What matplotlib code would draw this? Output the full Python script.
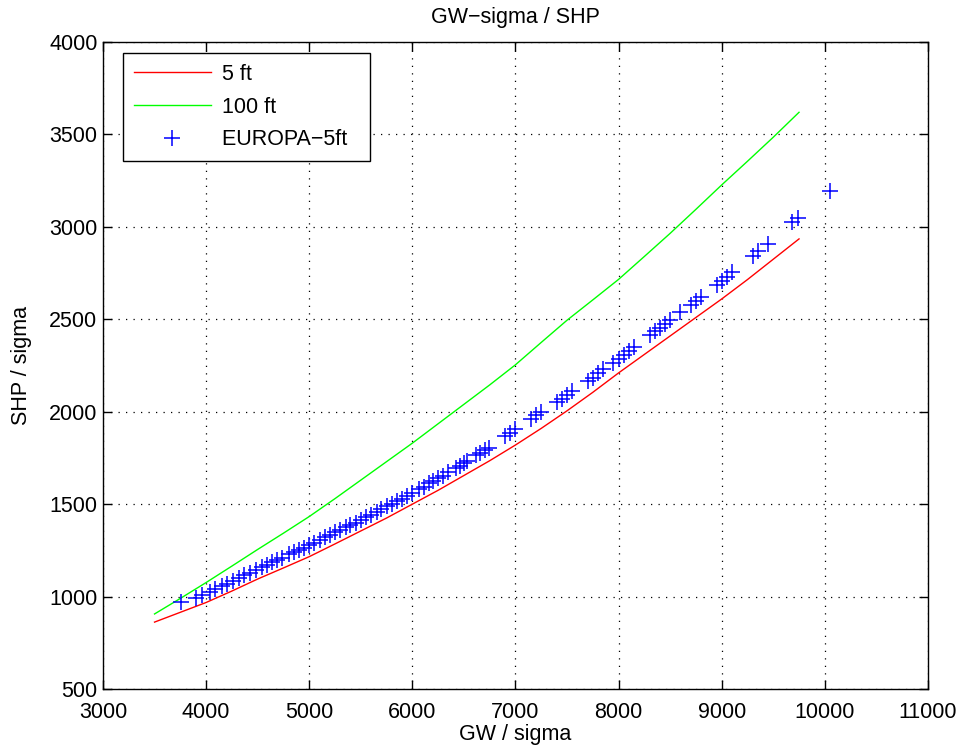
import numpy as np
import matplotlib
matplotlib.use('Agg')
import matplotlib.pyplot as plt

plt.rcParams['font.family'] = ['Liberation Sans', 'DejaVu Sans']

# model curves, SHP/sigma against GW/sigma
gw_line = [3500, 3750, 4000, 4250, 4500, 4750, 5000, 5250, 5500, 5750, 6000, 6250, 6500,
           6750, 7000, 7250, 7500, 7750, 8000, 8250, 8500, 8750, 9000, 9250, 9500, 9750]
shp_5ft = [862, 915, 968, 1030, 1095, 1155, 1216, 1285, 1355, 1425, 1500, 1575, 1655,
           1735, 1820, 1910, 2005, 2105, 2210, 2310, 2410, 2510, 2610, 2715, 2825, 2935]
shp_100ft = [906, 990, 1076, 1165, 1255, 1343, 1433, 1530, 1630, 1730, 1830, 1935, 2040,
             2145, 2254, 2375, 2495, 2605, 2716, 2840, 2965, 3095, 3227, 3355, 3485, 3620]

# EUROPA flight data at 5 ft
gw_europa = [3760, 3900, 3960, 4040, 4090, 4150, 4200, 4260, 4320, 4370, 4430, 4480,
             4540, 4590, 4640, 4690, 4740, 4800, 4850, 4900, 4950, 5000, 5050, 5100,
             5150, 5200, 5250, 5300, 5360, 5400, 5450, 5500, 5550, 5600, 5660, 5700,
             5750, 5800, 5850, 5900, 5950, 6000, 6060, 6110, 6160, 6200, 6250, 6300,
             6350, 6420, 6460, 6500, 6530, 6620, 6660, 6700, 6740, 6900, 6950, 7000,
             7150, 7200, 7250, 7400, 7450, 7500, 7550, 7700, 7750, 7800, 7850, 7950,
             8000, 8050, 8100, 8150, 8300, 8350, 8400, 8450, 8500, 8600, 8700, 8750,
             8800, 8950, 9000, 9050, 9100, 9300, 9350, 9450, 9680, 9740, 10050]
shp_europa = [970, 995, 1010, 1025, 1040, 1055, 1068, 1085, 1100, 1115, 1130, 1142,
              1158, 1170, 1185, 1198, 1210, 1228, 1240, 1252, 1265, 1278, 1292, 1308,
              1320, 1335, 1348, 1360, 1375, 1388, 1400, 1415, 1430, 1443, 1460, 1472,
              1488, 1502, 1517, 1530, 1545, 1560, 1580, 1595, 1612, 1625, 1640, 1655,
              1672, 1695, 1708, 1720, 1732, 1765, 1778, 1792, 1805, 1870, 1885, 1905,
              1960, 1980, 2000, 2050, 2070, 2090, 2110, 2165, 2185, 2210, 2232, 2265,
              2285, 2305, 2330, 2350, 2415, 2435, 2455, 2475, 2495, 2540, 2580, 2600,
              2620, 2685, 2705, 2730, 2755, 2840, 2870, 2905, 3025, 3050, 3195]

fig = plt.figure(figsize=(9.66, 7.56), dpi=100)
ax = fig.add_axes([0.1066, 0.0886, 0.854, 0.8558])

ax.plot(gw_line, shp_5ft, color='#ff0000', lw=1.0, label='5 ft')
ax.plot(gw_line, shp_100ft, color='#00ff00', lw=1.0, label='100 ft')
ax.plot(gw_europa, shp_europa, '+', color='#0000ff', ms=11, mew=1.1,
        label='EUROPA\u22125ft')

ax.set_xlim(3000, 11000)
ax.set_ylim(500, 4000)
ax.set_xticks(np.arange(3000, 11001, 1000))
ax.set_yticks(np.arange(500, 4001, 500))
ax.grid(True, color='black', linestyle=(0, (1, 5)), linewidth=0.9)
ax.tick_params(direction='in', top=True, right=True, labelsize=15.5, length=6.5, width=1)
ax.tick_params(axis='x', pad=9)
ax.tick_params(axis='y', pad=4)
for s in ax.spines.values():
    s.set_linewidth(1.0)

ax.set_title('GW\u2212sigma / SHP', fontsize=15.5, pad=14)
ax.set_xlabel('GW / sigma', fontsize=15.5, labelpad=1)
ax.set_ylabel('SHP / sigma', fontsize=15.5, labelpad=12)

leg = ax.legend(loc='upper left', bbox_to_anchor=(0.024, 0.983), fontsize=15.5,
                fancybox=False, edgecolor='black', framealpha=1, borderpad=0.5,
                handlelength=3.6, handletextpad=0.5, labelspacing=0.55,
                borderaxespad=0.0)
leg.get_frame().set_linewidth(1.0)
# a little extra room to the right of the labels
for t in leg.get_texts():
    t.set_text(t.get_text() + '  ')

fig.savefig('out.png', dpi=100)
